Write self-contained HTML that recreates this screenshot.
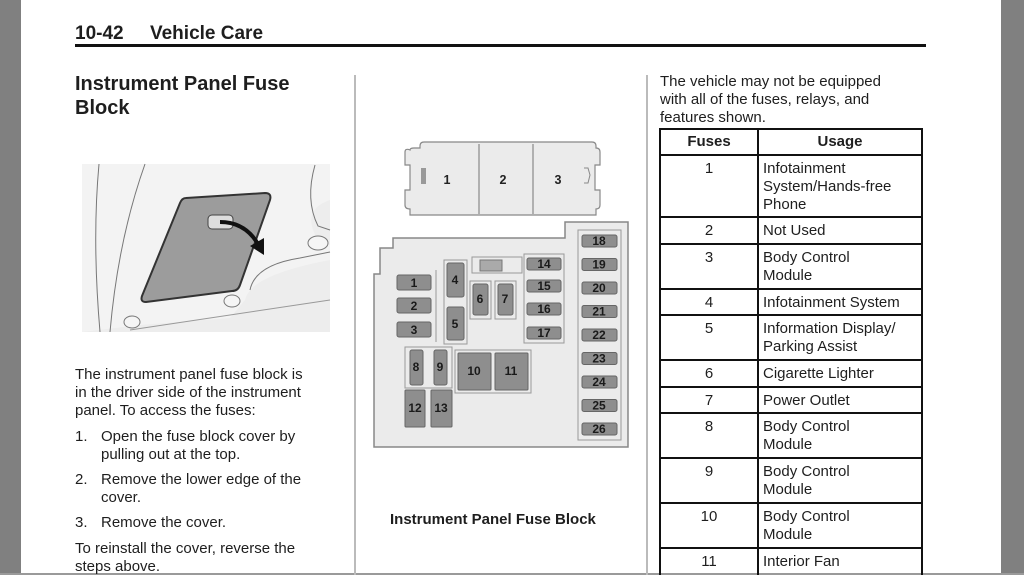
<!DOCTYPE html>
<html><head><meta charset="utf-8"><style>
html,body{margin:0;padding:0}
body{width:1024px;height:575px;position:relative;overflow:hidden;background:#fff;font-family:"Liberation Sans",Arial,sans-serif;color:#1e1e1e}
.t{position:absolute;white-space:nowrap;font-size:15px;line-height:18px}
.b{font-weight:bold}
</style></head><body>
<div style="position:absolute;left:0;top:0;width:21px;height:575px;background:#808080"></div>
<div style="position:absolute;left:1001px;top:0;width:23px;height:575px;background:#808080"></div>
<div style="position:absolute;left:0;top:573px;width:1024px;height:2px;background:#9a9a9a"></div>

<div class="t b" style="left:75px;top:22px;font-size:19px;line-height:24px">10-42&nbsp;&nbsp;&nbsp;&nbsp;&nbsp;Vehicle Care</div>
<div style="position:absolute;left:75px;top:44px;width:851px;height:3px;background:#111"></div>

<div class="t b" style="left:75px;top:72px;font-size:20px;line-height:24px">Instrument Panel Fuse<br>Block</div>
<div style="position:absolute;left:354px;top:75px;width:2px;height:500px;background:#bbb"></div>
<div style="position:absolute;left:646px;top:75px;width:2px;height:500px;background:#bbb"></div>

<svg style="position:absolute;left:0;top:0" width="1024" height="575">
<g>
<rect x="82" y="164" width="248" height="168" fill="#ededed"/>
<path d="M82 164 L330 164 L330 200 Q300 210 318 240 L330 245 L330 260 Q250 275 245 300 L230 318 L140 325 L82 332 Z" fill="#f3f3f3"/>
<path d="M99 164 Q92 240 100 332" stroke="#777" fill="none" stroke-width="1"/>
<path d="M145 164 Q118 240 110 332" stroke="#777" fill="none" stroke-width="1"/>
<path d="M250 290 Q255 265 300 258 L330 252" stroke="#777" fill="none" stroke-width="1"/>
<path d="M315 165 Q305 200 318 226 L330 230" stroke="#777" fill="none" stroke-width="1"/>
<path d="M130 330 L330 300" stroke="#999" fill="none" stroke-width="1"/>
<ellipse cx="318" cy="243" rx="10" ry="7" fill="#f5f5f5" stroke="#777"/>
<path d="M186 198 L265 193 Q272 193 270 200 L240 285 Q238 291 232 291 L146 302 Q140 302 142 296 L180 203 Q182 198 186 198 Z" fill="#9c9c9c" stroke="#333" stroke-width="2"/>
<rect x="208" y="215" width="25" height="14" rx="4" fill="#ddd" stroke="#444"/>
<path d="M220 222 Q245 222 258 244" stroke="#111" stroke-width="4" fill="none"/>
<path d="M250 246 L264 255 L264 238 Z" fill="#111"/>
<ellipse cx="132" cy="322" rx="8" ry="6" fill="#f5f5f5" stroke="#777"/>
<ellipse cx="232" cy="301" rx="8" ry="6" fill="#f5f5f5" stroke="#777"/>
</g>

<g fill="#ebebeb" stroke="#888" stroke-width="1.2">
<path d="M410 150 Q410 148 414 148 L420 148 L420 146 Q420 142 424 142 L592 142 Q596 142 596 146 L596 148 Q600 148 600 152 L600 165 L595 165 L595 190 L600 190 L600 205 Q600 209 596 209 L596 215 L410 215 L410 209 Q405 209 405 205 L405 190 L410 190 L410 165 L405 165 L405 152 Q405 148 410 150 Z"/>
<line x1="479" y1="144" x2="479" y2="214"/>
<line x1="533" y1="144" x2="533" y2="214"/>
</g>
<rect x="421" y="168" width="5" height="16" fill="#999"/>
<path d="M584 168 L588 168 L590 175 L588 183 L584 183" stroke="#888" fill="none"/>
<g font-family="Liberation Sans,Arial,sans-serif" font-weight="bold" font-size="12.5" fill="#222" text-anchor="middle">
<text x="447" y="184">1</text><text x="503" y="184">2</text><text x="558" y="184">3</text>
</g>

<path d="M374 445 L374 274 L380 274 L380 248 L393 248 L393 238 L565 238 L565 222 L628 222 L628 447 L374 447 Z" fill="#ebebeb" stroke="#888" stroke-width="1.5"/>
<g fill="none" stroke="#999" stroke-width="1">
<rect x="578" y="230" width="43" height="210"/>
<rect x="524" y="254" width="40" height="89"/>
<rect x="470" y="281" width="21" height="38"/>
<rect x="495" y="281" width="21" height="38"/>
<rect x="444" y="260" width="23" height="84"/>
<rect x="405" y="347" width="47" height="41"/>
<rect x="455" y="350" width="76" height="43"/>
<line x1="436" y1="270" x2="436" y2="342"/>
<rect x="472" y="257" width="50" height="16"/>
</g>
<rect x="480" y="260" width="22" height="11" fill="#aaa" stroke="#777"/>
<g fill="#8e8e8e" stroke="#666" stroke-width="1">
<rect x="397" y="275" width="34" height="15" rx="2"/>
<rect x="397" y="298" width="34" height="15" rx="2"/>
<rect x="397" y="322" width="34" height="15" rx="2"/>
<rect x="447" y="263" width="17" height="34" rx="2"/>
<rect x="447" y="307" width="17" height="33" rx="2"/>
<rect x="473" y="284" width="15" height="31" rx="2"/>
<rect x="498" y="284" width="15" height="31" rx="2"/>
<rect x="527" y="258" width="34" height="12" rx="2"/>
<rect x="527" y="280" width="34" height="12" rx="2"/>
<rect x="527" y="303" width="34" height="12" rx="2"/>
<rect x="527" y="327" width="34" height="12" rx="2"/>
<rect x="410" y="350" width="13" height="35" rx="2"/>
<rect x="434" y="350" width="13" height="35" rx="2"/>
<rect x="458" y="353" width="33" height="37" rx="1"/>
<rect x="495" y="353" width="33" height="37" rx="1"/>
<rect x="405" y="390" width="20" height="37" rx="1"/>
<rect x="431" y="390" width="21" height="37" rx="1"/>
<rect x="582" y="235" width="35" height="12" rx="2"/>
<rect x="582" y="258.5" width="35" height="12" rx="2"/>
<rect x="582" y="282" width="35" height="12" rx="2"/>
<rect x="582" y="305.5" width="35" height="12" rx="2"/>
<rect x="582" y="329" width="35" height="12" rx="2"/>
<rect x="582" y="352.5" width="35" height="12" rx="2"/>
<rect x="582" y="376" width="35" height="12" rx="2"/>
<rect x="582" y="399.5" width="35" height="12" rx="2"/>
<rect x="582" y="423" width="35" height="12" rx="2"/>
</g>
<g font-family="Liberation Sans,Arial,sans-serif" font-weight="bold" font-size="12" fill="#1a1a1a" text-anchor="middle">
<text x="414" y="287">1</text><text x="414" y="310">2</text><text x="414" y="334">3</text>
<text x="455" y="284">4</text><text x="455" y="328">5</text>
<text x="480" y="303">6</text><text x="505" y="303">7</text>
<text x="544" y="268">14</text><text x="544" y="290">15</text><text x="544" y="313">16</text><text x="544" y="337">17</text>
<text x="416" y="371">8</text><text x="440" y="371">9</text>
<text x="474" y="375">10</text><text x="511" y="375">11</text>
<text x="415" y="412">12</text><text x="441" y="412">13</text>
<text x="599" y="245">18</text><text x="599" y="268.5">19</text><text x="599" y="292">20</text>
<text x="599" y="315.5">21</text><text x="599" y="339">22</text><text x="599" y="362.5">23</text>
<text x="599" y="386">24</text><text x="599" y="409.5">25</text><text x="599" y="433">26</text>
</g>

<g stroke="#111" stroke-width="2" fill="none">
<rect x="660" y="129" width="262" height="450"/>
<line x1="758" y1="129" x2="758" y2="575"/>
<line x1="660" y1="155" x2="922" y2="155"/>
<line x1="660" y1="217" x2="922" y2="217"/>
<line x1="660" y1="244" x2="922" y2="244"/>
<line x1="660" y1="289" x2="922" y2="289"/>
<line x1="660" y1="315" x2="922" y2="315"/>
<line x1="660" y1="360" x2="922" y2="360"/>
<line x1="660" y1="387" x2="922" y2="387"/>
<line x1="660" y1="413" x2="922" y2="413"/>
<line x1="660" y1="458" x2="922" y2="458"/>
<line x1="660" y1="503" x2="922" y2="503"/>
<line x1="660" y1="548" x2="922" y2="548"/>
</g>
</svg>

<div class="t b" style="left:390px;top:511px">Instrument Panel Fuse Block</div>

<div class="t" style="left:75px;top:366px">The instrument panel fuse block is<br>in the driver side of the instrument<br>panel. To access the fuses:</div>
<div class="t" style="left:75px;top:428px">1.</div><div class="t" style="left:101px;top:428px">Open the fuse block cover by<br>pulling out at the top.</div>
<div class="t" style="left:75px;top:471px">2.</div><div class="t" style="left:101px;top:471px">Remove the lower edge of the<br>cover.</div>
<div class="t" style="left:75px;top:514px">3.</div><div class="t" style="left:101px;top:514px">Remove the cover.</div>
<div class="t" style="left:75px;top:540px">To reinstall the cover, reverse the<br>steps above.</div>

<div class="t" style="left:660px;top:73px">The vehicle may not be equipped<br>with all of the fuses, relays, and<br>features shown.</div>

<div class="t b" style="left:660px;top:133px;width:98px;text-align:center">Fuses</div>
<div class="t b" style="left:758px;top:133px;width:164px;text-align:center">Usage</div>

<div class="t" style="left:660px;top:160px;width:98px;text-align:center">1</div>
<div class="t" style="left:763px;top:160px">Infotainment<br>System/Hands-free<br>Phone</div>
<div class="t" style="left:660px;top:222px;width:98px;text-align:center">2</div>
<div class="t" style="left:763px;top:222px">Not Used</div>
<div class="t" style="left:660px;top:249px;width:98px;text-align:center">3</div>
<div class="t" style="left:763px;top:249px">Body Control<br>Module</div>
<div class="t" style="left:660px;top:294px;width:98px;text-align:center">4</div>
<div class="t" style="left:763px;top:294px">Infotainment System</div>
<div class="t" style="left:660px;top:320px;width:98px;text-align:center">5</div>
<div class="t" style="left:763px;top:320px">Information Display/<br>Parking Assist</div>
<div class="t" style="left:660px;top:365px;width:98px;text-align:center">6</div>
<div class="t" style="left:763px;top:365px">Cigarette Lighter</div>
<div class="t" style="left:660px;top:392px;width:98px;text-align:center">7</div>
<div class="t" style="left:763px;top:392px">Power Outlet</div>
<div class="t" style="left:660px;top:418px;width:98px;text-align:center">8</div>
<div class="t" style="left:763px;top:418px">Body Control<br>Module</div>
<div class="t" style="left:660px;top:463px;width:98px;text-align:center">9</div>
<div class="t" style="left:763px;top:463px">Body Control<br>Module</div>
<div class="t" style="left:660px;top:508px;width:98px;text-align:center">10</div>
<div class="t" style="left:763px;top:508px">Body Control<br>Module</div>
<div class="t" style="left:660px;top:553px;width:98px;text-align:center">11</div>
<div class="t" style="left:763px;top:553px">Interior Fan</div>
</body></html>
